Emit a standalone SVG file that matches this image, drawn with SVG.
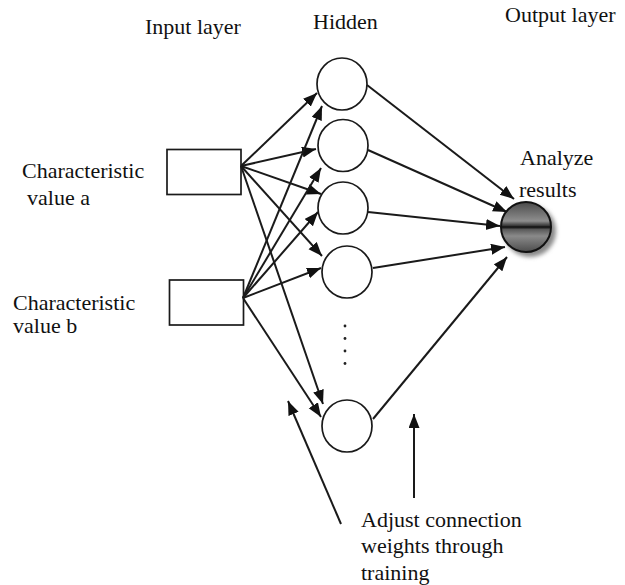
<svg xmlns="http://www.w3.org/2000/svg" width="625" height="585" viewBox="0 0 625 585">
  <style>
    text { font-family: "Liberation Serif", "Times New Roman", serif; font-size: 22px; fill: #111; }
    .node { fill: #fff; stroke: #1a1a1a; stroke-width: 1.7; }
    .edge { stroke: #1a1a1a; stroke-width: 2; fill: none; marker-end: url(#arrow); }
    .dot { fill: #222; }
  </style>
  <defs>
    <marker id="arrow" markerUnits="userSpaceOnUse" markerWidth="15" markerHeight="12" refX="14" refY="5.5" orient="auto">
      <path d="M0,0 L14,5.5 L0,11 Z" fill="#111"/>
    </marker>
    <linearGradient id="ball" x1="0" y1="0" x2="0" y2="1">
      <stop offset="0" stop-color="#4a4a4a"/>
      <stop offset="0.38" stop-color="#8e8e8e"/>
      <stop offset="0.47" stop-color="#3a3a3a"/>
      <stop offset="0.5" stop-color="#0d0d0d"/>
      <stop offset="0.55" stop-color="#5a5a5a"/>
      <stop offset="0.68" stop-color="#8a8a8a"/>
      <stop offset="1" stop-color="#4c4c4c"/>
    </linearGradient>
    <filter id="soft" x="-50%" y="-50%" width="200%" height="200%">
      <feGaussianBlur stdDeviation="2"/>
    </filter>
  </defs>

  <!-- layer titles -->
  <text x="145" y="34">Input layer</text>
  <text x="313" y="29">Hidden</text>
  <text x="505" y="22">Output layer</text>

  <!-- input nodes -->
  <g id="input-a">
    <rect class="node" x="167" y="149.5" width="74" height="45"/>
    <text x="22" y="178">Characteristic</text>
    <text x="27" y="205">value a</text>
  </g>
  <g id="input-b">
    <rect class="node" x="169.5" y="280" width="74" height="45"/>
    <text x="13" y="310">Characteristic</text>
    <text x="13" y="333">value b</text>
  </g>

  <!-- hidden nodes -->
  <g id="hidden-1"><ellipse class="node" cx="342" cy="84" rx="25" ry="26"/></g>
  <g id="hidden-2"><ellipse class="node" cx="343" cy="145.5" rx="25" ry="26"/></g>
  <g id="hidden-3"><ellipse class="node" cx="343" cy="208" rx="25" ry="26"/></g>
  <g id="hidden-4"><ellipse class="node" cx="347" cy="272" rx="25" ry="26"/></g>
  <g id="hidden-ellipsis">
    <circle class="dot" cx="345" cy="326" r="1.4"/>
    <circle class="dot" cx="345" cy="338.5" r="1.4"/>
    <circle class="dot" cx="345" cy="351" r="1.4"/>
    <circle class="dot" cx="345" cy="363.5" r="1.4"/>
  </g>
  <g id="hidden-n"><ellipse class="node" cx="347" cy="426" rx="25" ry="26"/></g>

  <!-- output node -->
  <g id="output">
    <circle cx="530" cy="231" r="26" fill="#8a8a8a" filter="url(#soft)"/>
    <circle cx="526" cy="227" r="25" fill="url(#ball)" stroke="#111" stroke-width="2"/>
    <text x="520" y="165">Analyze</text>
    <text x="519" y="197">results</text>
  </g>

  <!-- training note -->
  <g id="note">
    <text x="361" y="527">Adjust connection</text>
    <text x="361" y="553">weights through</text>
    <text x="361" y="580">training</text>
  </g>

  <g id="connectors">
    <!-- input a to hidden -->
    <line class="edge" x1="241" y1="166" x2="317" y2="93"/>
    <line class="edge" x1="241" y1="166" x2="316" y2="149"/>
    <line class="edge" x1="241" y1="166" x2="321" y2="194"/>
    <line class="edge" x1="241" y1="166" x2="322" y2="256"/>
    <line class="edge" x1="241" y1="166" x2="323" y2="404"/>
    <!-- input b to hidden -->
    <line class="edge" x1="243" y1="298" x2="322" y2="106"/>
    <line class="edge" x1="243" y1="298" x2="321" y2="168"/>
    <line class="edge" x1="243" y1="298" x2="318" y2="212"/>
    <line class="edge" x1="243" y1="298" x2="321" y2="268"/>
    <line class="edge" x1="243" y1="298" x2="321" y2="417"/>
    <!-- hidden to output -->
    <line class="edge" x1="367" y1="85" x2="514" y2="199"/>
    <line class="edge" x1="368" y1="150" x2="507" y2="212"/>
    <line class="edge" x1="368" y1="212" x2="500" y2="226"/>
    <line class="edge" x1="373" y1="268" x2="505" y2="247"/>
    <line class="edge" x1="373" y1="419" x2="507" y2="257"/>
    <!-- training pointers -->
    <line class="edge" x1="341" y1="524" x2="288" y2="401"/>
    <line class="edge" x1="414" y1="498" x2="414" y2="414"/>
  </g>
</svg>
